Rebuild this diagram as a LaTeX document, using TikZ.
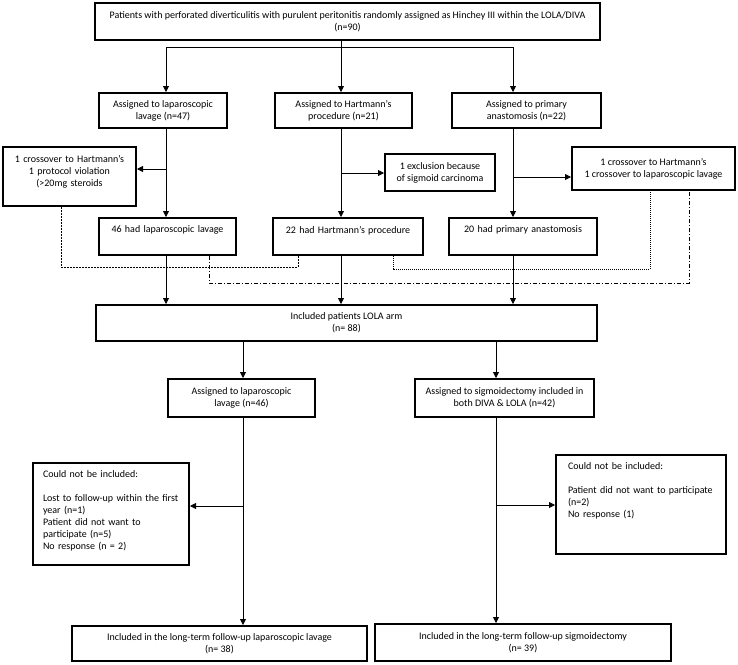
\documentclass[tikz,border=0pt]{standalone}
\usepackage{fontspec}
\setmainfont{Carlito}
\usetikzlibrary{arrows.meta}

\tikzset{
  box/.style={draw, line width=2pt, align=center, inner sep=2pt, font=\fontsize{10}{12}\selectfont},
  topbox/.style={box, anchor=north west, inner xsep=4pt, inner ysep=8pt},
  arr/.style={line width=0.8pt, -{Triangle[length=6pt,width=6pt]}},
  link/.style={line width=0.8pt},
  xdash/.style={line width=0.8pt, dash pattern=on 2pt off 1pt},
  xdots/.style={line width=1pt, dash pattern=on 1pt off 1pt},
  xdashdot/.style={line width=0.8pt, dash pattern=on 4pt off 2pt on 1pt off 2pt},
}

\begin{document}
\begin{tikzpicture}[x=1pt, y=-1pt]
\useasboundingbox (0,0) rectangle (738,664);

\coordinate (lavx) at (166,0);
\coordinate (hartx) at (341,0);
\coordinate (primx) at (513,0);
\coordinate (split) at (341,47);
\coordinate (lowAx) at (243,0);
\coordinate (lowBx) at (496,0);

% randomisation
\node[box, minimum width=505, minimum height=37] (all) at (347.5,21.5) {Patients with perforated diverticulitis with purulent peritonitis randomly assigned as Hinchey III within the LOLA/DIVA\\(n=90)};

\node[box, minimum width=128, minimum height=35] (lav1) at (163,110.5) {Assigned to laparoscopic\\lavage (n=47)};
\node[box, minimum width=137, minimum height=35] (hart1) at (343.5,110.5) {Assigned to Hartmann’s\\procedure (n=21)};
\node[box, minimum width=149, minimum height=35] (prim1) at (526.5,110.5) {Assigned to primary\\anastomosis (n=22)};

% exclusions and crossovers
\node[topbox, text width=125, text depth=36] (exA) at (2,146) {1 crossover to Hartmann’s\\1 protocol violation\\(>20mg steroids};
\node[box, minimum width=110, minimum height=37] (exB) at (440,172.5) {1 exclusion because\\of sigmoid carcinoma};
\node[box, minimum width=163, minimum height=43] (exC) at (653.5,168.5) {1 crossover to Hartmann’s\\1 crossover to laparoscopic lavage};

\node[topbox, text width=129, text depth=14] (lav2) at (98,217) {46 had laparoscopic lavage};
\node[topbox, text width=142, text depth=14] (hart2) at (272,217) {22 had Hartmann’s procedure};
\node[topbox, text width=140, text depth=14] (prim2) at (448,217) {20 had primary anastomosis};

\node[box, minimum width=501, minimum height=36] (lola) at (346.5,323) {Included patients LOLA arm\\(n= 88)};

% long-term follow-up
\node[box, minimum width=147, minimum height=38] (lav3) at (241.5,398) {Assigned to laparoscopic\\lavage (n=46)};
\node[box, minimum width=179, minimum height=38] (sig3) at (504.5,398) {Assigned to sigmoidectomy included in\\both DIVA \& LOLA (n=42)};

\node[topbox, align=left, inner xsep=10pt, text width=136, text depth=79] (lostA) at (32,462) {Could not be included:\\[12pt]Lost to follow-up within the first\\year (n=1)\\Patient did not want to\\participate (n=5)\\No response (n = 2)};
\node[topbox, align=left, inner xsep=12pt, text width=146, text depth=76] (lostB) at (555,454) {Could not be included:\\[12pt]Patient did not want to participate\\(n=2)\\No response (1)};

\node[box, minimum width=295, minimum height=35] (finA) at (219.5,643.5) {Included in the long-term follow-up laparoscopic lavage\\(n= 38)};
\node[box, minimum width=296, minimum height=37] (finB) at (523,642.5) {Included in the long-term follow-up sigmoidectomy\\(n= 39)};

% arrows
\draw[arr] (all.south -| hartx) -- (hart1.north -| hartx);
\draw[link] (split -| lavx) -- (split -| primx);
\draw[arr] (split -| lavx) -- (lav1.north -| lavx);
\draw[arr] (split -| primx) -- (prim1.north -| primx);

\draw[arr] (lav1.south -| lavx) -- (lav2.north -| lavx);
\draw[arr] (hart1.south -| hartx) -- (hart2.north -| hartx);
\draw[arr] (prim1.south -| primx) -- (prim2.north -| primx);

\coordinate (branchA) at (166,169);
\coordinate (branchB) at (341,173);
\coordinate (branchC) at (513,177);
\draw[arr] (branchA) -- (exA.east |- branchA);
\draw[arr] (branchB) -- (exB.west |- branchB);
\draw[arr] (branchC) -- (exC.west |- branchC);

\draw[arr] (lav2.south -| lavx) -- (lola.north -| lavx);
\draw[arr] (hart2.south -| hartx) -- (lola.north -| hartx);
\draw[arr] (prim2.south -| primx) -- (lola.north -| primx);

% crossover lines
\coordinate (crossA) at (61,267);
\coordinate (crossB) at (298,267);
\coordinate (crossC) at (393,269);
\coordinate (crossD) at (650,269);
\coordinate (crossE) at (209,283);
\coordinate (crossF) at (689,283);
\draw[xdash] (exA.south -| crossA) -- (crossA) -- (crossB) -- (hart2.south -| crossB);
\draw[xdots] (hart2.south -| crossC) -- (crossC) -- (crossD) -- (exC.south -| crossD);
\draw[xdashdot] (lav2.south -| crossE) -- (crossE) -- (crossF) -- (exC.south -| crossF);

\draw[arr] (lola.south -| lowAx) -- (lav3.north -| lowAx);
\draw[arr] (lola.south -| lowBx) -- (sig3.north -| lowBx);
\draw[arr] (lav3.south -| lowAx) -- (finA.north -| lowAx);
\draw[arr] (sig3.south -| lowBx) -- (finB.north -| lowBx);

\coordinate (branchD) at (243,506);
\coordinate (branchE) at (496,505);
\draw[arr] (branchD) -- (lostA.east |- branchD);
\draw[arr] (branchE) -- (lostB.west |- branchE);
\end{tikzpicture}
\end{document}
